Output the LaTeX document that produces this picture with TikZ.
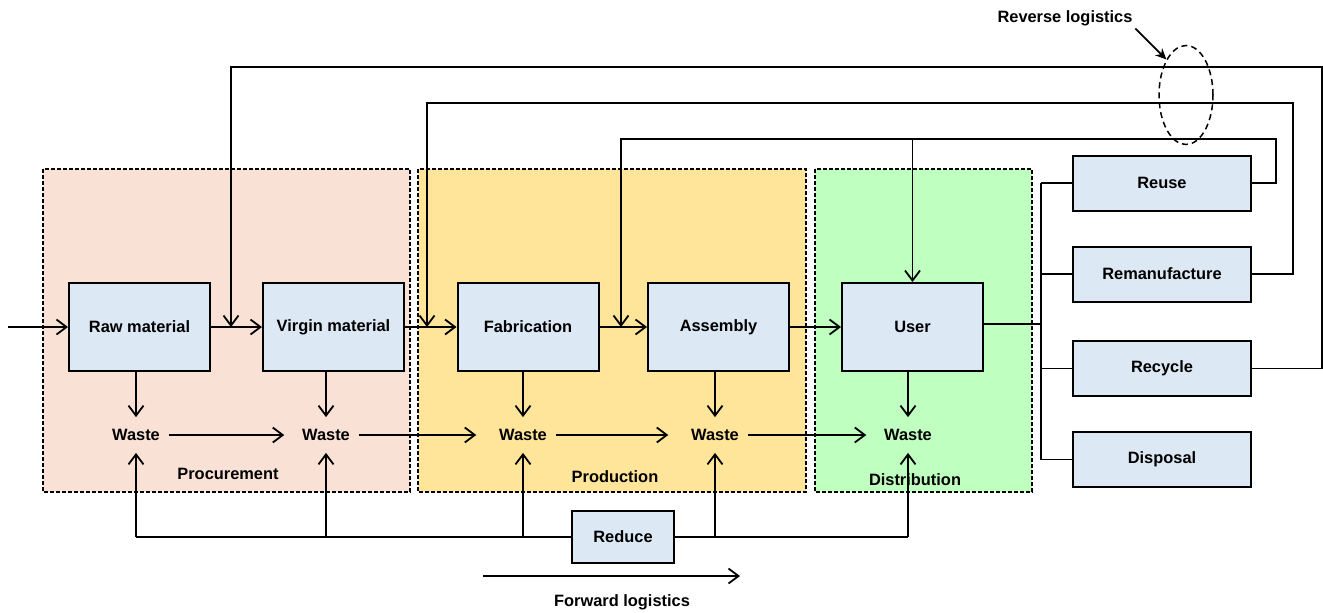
\documentclass[tikz,border=0pt]{standalone}
\usepackage{fontspec}
\setmainfont{Liberation Sans}
\usetikzlibrary{arrows.meta,shapes.geometric,calc}
\definecolor{procfill}{RGB}{249,226,213}
\definecolor{prodfill}{RGB}{255,229,153}
\definecolor{distfill}{RGB}{191,255,191}
\definecolor{boxfill}{RGB}{221,232,245}
\begin{document}
\begin{tikzpicture}[x=1pt,y=-1pt,
  font=\fontsize{16.4}{19}\selectfont\bfseries,
  line width=1.8pt,
  flow/.style={-{Straight Barb[length=10pt,width=15pt,line width=1.8pt]}},
  stage/.style={draw,line width=1.3pt,dash pattern=on 4pt off 2pt},
  procbox/.style={draw,line width=2pt,fill=boxfill,inner sep=0pt,
                  minimum width=141pt,minimum height=88pt},
  sidebox/.style={draw,line width=2pt,fill=boxfill,inner sep=0pt,
                  minimum width=178pt,minimum height=55pt},
  waste/.style={inner xsep=8pt,inner ysep=0pt,minimum height=34pt},
  plain/.style={inner sep=2pt}]
\useasboundingbox (0,0) rectangle (1323,613);

% stage backgrounds
\draw[stage,fill=procfill] (43,169) rectangle (410,492);
\draw[stage,fill=prodfill] (418,169) rectangle (806,492);
\draw[stage,fill=distfill] (815,169) rectangle (1032,492);

% main process boxes
\node[procbox] (rm) at (139.5,327) {Raw material};
\node[procbox] (vm) at (333.5,327) {Virgin material};
\node[procbox] (fb) at (528,327) {Fabrication};
\node[procbox] (as) at (718.5,327) {Assembly};
\node[procbox] (us) at (912.5,327) {User};

% end-of-life options
\node[sidebox] (reu) at (1162,183) {Reuse};
\node[sidebox] (rem) at (1162,274) {Remanufacture};
\node[sidebox] (rec) at (1162,368.5) {Recycle};
\node[sidebox] (dis) at (1162,459.5) {Disposal};

\node[draw,line width=2pt,fill=boxfill,minimum width=102pt,minimum height=52pt,inner sep=0pt] (rd) at (623,537) {Reduce};

% waste outputs
\node[waste] (w1) at (136,435) {Waste};
\node[waste] (w2) at (326,435) {Waste};
\node[waste] (w3) at (523,435) {Waste};
\node[waste] (w4) at (715,435) {Waste};
\node[waste] (w5) at (908,435) {Waste};

% stage labels
\node[plain] (lp1) at (228,474) {Procurement};
\node[plain] (lp2) at (615,477) {Production};
\node[plain] (lp3) at (915,480) {Distribution};

% forward flow
\coordinate (in) at (8,327);
\coordinate (m1) at (231,327);
\coordinate (m2) at (427,327);
\coordinate (m3) at (621,327);
\draw[flow] (in) -- (rm.west);
\draw[flow] (rm.east) -- (vm.west);
\draw[flow] (vm.east) -- (fb.west);
\draw[flow] (fb.east) -- (as.west);
\draw[flow] (as.east) -- (us.west);

% waste streams
\foreach \b/\w in {rm/w1,vm/w2,fb/w3,as/w4,us/w5}
  \draw[flow] (\b.south -| \w.north) -- (\w.north);
\draw[flow,shorten >=9pt] (w1.east) -- (w2.west);
\draw[flow,shorten >=14pt] (w2.east) -- (w3.west);
\draw[flow,shorten >=14pt] (w3.east) -- (w4.west);
\draw[flow,shorten >=9pt] (w4.east) -- (w5.west);

% reduce feedback
\draw (w1.south |- rd.west) -- (rd.west);
\draw (rd.east) -- (w5.south |- rd.east);
\foreach \w in {w1,w2,w3,w4,w5}
  \draw[flow] (\w.south |- rd.west) -- (\w.south);

% user to end-of-life options
\coordinate (bus) at (1041,324);
\draw (us.east |- bus) -- (bus);
\draw (bus |- reu.west) -- (bus |- dis.west);
\foreach \t in {reu,rem,rec,dis}
  \draw (bus |- \t.west) -- (\t.west);

% reverse flows
\coordinate (k1) at (1322,67);
\coordinate (k2) at (1293,103);
\coordinate (k3) at (1276,139);
\draw[flow] (rec.east) -| (k1) -| (m1);
\draw[flow] (rem.east) -| (k2) -| (m2);
\draw[flow] (reu.east) -| (k3) -| (m3);
\draw[flow] (us.north |- k3) -- (us.north);

% reverse logistics marker
\node[draw,ellipse,line width=1.5pt,dash pattern=on 6pt off 4pt,
      minimum width=54pt,minimum height=99pt,inner sep=0pt] (rl) at (1186,95) {};
\node[plain] (rlab) at (1065,18) {Reverse logistics};
\draw[-{Stealth[length=11pt,width=10pt]}] (rlab.south east) -- (rl.north west);

% forward logistics marker
\coordinate (f1) at (483,576);
\coordinate (f2) at (740,576);
\draw[flow] (f1) -- (f2);
\node[plain] (flab) at (622,602) {Forward logistics};
\end{tikzpicture}
\end{document}
